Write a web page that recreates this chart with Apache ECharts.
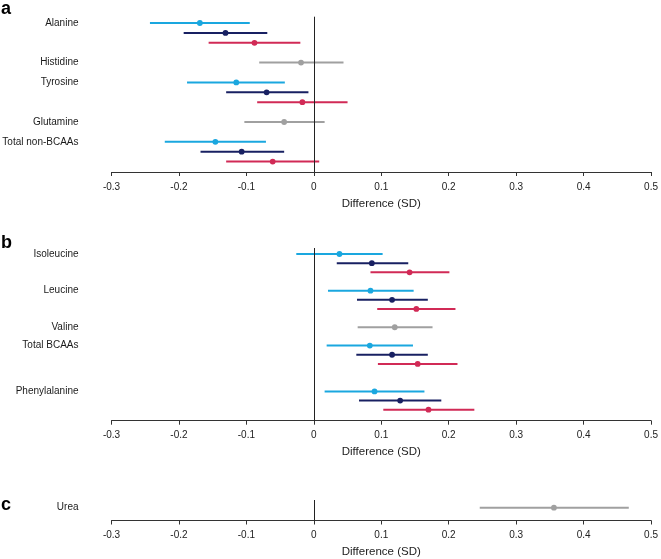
<!DOCTYPE html>
<html>
<head>
<meta charset="utf-8">
<script src="https://cdn.jsdelivr.net/npm/echarts@6/dist/echarts.min.js"></script>
<style>
html,body{margin:0;padding:0;background:#fff;}
#chart{width:661px;height:559px;}
</style>
</head>
<body>
<div id="chart"></div>
<script>
// ---- data: each metabolite -> list of [lower CI, estimate, upper CI]
// three-row groups: [light blue, navy, red]; single-row groups: grey
const alanine      = [[-0.243, -0.169, -0.095], [-0.193, -0.131, -0.069], [-0.156, -0.088, -0.020]];
const histidine    = [[-0.081, -0.019, 0.044]];
const tyrosine     = [[-0.188, -0.115, -0.043], [-0.130, -0.070, -0.008], [-0.084, -0.017, 0.050]];
const glutamine    = [[-0.103, -0.044, 0.016]];
const totalNonBCAA = [[-0.221, -0.146, -0.071], [-0.168, -0.107, -0.044], [-0.130, -0.061, 0.008]];

const isoleucine   = [[-0.026, 0.038, 0.102], [0.034, 0.086, 0.140], [0.084, 0.142, 0.201]];
const leucine      = [[0.021, 0.084, 0.148], [0.064, 0.116, 0.169], [0.094, 0.152, 0.210]];
const valine       = [[0.065, 0.120, 0.176]];
const totalBCAA    = [[0.019, 0.083, 0.147], [0.063, 0.116, 0.169], [0.095, 0.154, 0.213]];
const phenylalanine= [[0.016, 0.090, 0.164], [0.067, 0.128, 0.189], [0.103, 0.170, 0.238]];

const urea         = [[0.246, 0.356, 0.467]];

const panelALabels = ['Alanine', 'Histidine', 'Tyrosine', 'Glutamine', 'Total non-BCAAs'];
const panelAData   = [alanine, histidine, tyrosine, glutamine, totalNonBCAA];
const panelBLabels = ['Isoleucine', 'Leucine', 'Valine', 'Total BCAAs', 'Phenylalanine'];
const panelBData   = [isoleucine, leucine, valine, totalBCAA, phenylalanine];
const panelCLabels = ['Urea'];
const panelCData   = [urea];

const xTicks = [-0.3, -0.2, -0.1, 0, 0.1, 0.2, 0.3, 0.4, 0.5];
const axisTitle = 'Difference (SD)';

// ---- layout / style (not data)
const gapsA = [0, 1, 1, 1, 1];
const gapsB = [0, 1, 1, 1, 2];
const gapsC = [0];
const tripleColors = ['#1aa7df', '#182062', '#d12a56'];
const singleColor = '#a0a0a0';
const FONT = 'Liberation Sans, Arial, Helvetica, sans-serif';

function buildRows(labels, data, gaps) {
  const rows = [];
  let slot = 0;
  data.forEach((grp, g) => {
    slot += gaps[g];
    grp.forEach((ci, k) => {
      const color = grp.length === 1 ? singleColor : tripleColors[k];
      rows.push({ value: [ci[0], ci[1], ci[2], slot], color: color, label: k === 0 ? labels[g] : '' });
      slot += 1;
    });
  });
  return rows;
}

const rowsA = buildRows(panelALabels, panelAData, gapsA);
const rowsB = buildRows(panelBLabels, panelBData, gapsB);
const rowsC = buildRows(panelCLabels, panelCData, gapsC);

function makeSeries(rows, idx) {
  return {
    type: 'custom',
    xAxisIndex: idx,
    yAxisIndex: idx,
    encode: { x: [0, 1, 2], y: 3 },
    data: rows.map(r => r.value),
    renderItem: function (params, api) {
      const r = rows[params.dataIndex];
      const y = api.value(3);
      const p1 = api.coord([api.value(0), y]);
      const p2 = api.coord([api.value(2), y]);
      const pc = api.coord([api.value(1), y]);
      const children = [
        { type: 'line', shape: { x1: p1[0], y1: p1[1], x2: p2[0], y2: p2[1] },
          style: { stroke: r.color, lineWidth: 2 } },
        { type: 'circle', shape: { cx: pc[0], cy: pc[1], r: 2.9 },
          style: { fill: r.color } }
      ];
      if (r.label) {
        const pl = api.coord([xTicks[0], y]);
        children.push({ type: 'text', x: pl[0] - 33, y: pl[1],
          style: { text: r.label, align: 'right', verticalAlign: 'middle',
                   fill: '#1a1a1a', font: '10px ' + FONT } });
      }
      return { type: 'group', children: children };
    },
    markLine: {
      silent: true, symbol: 'none', animation: false,
      label: { show: false },
      lineStyle: { color: '#222', width: 1, type: 'solid' },
      data: [{ xAxis: 0 }]
    },
    animation: false
  };
}

function makeX(idx) {
  return {
    type: 'value', gridIndex: idx,
    min: xTicks[0], max: xTicks[xTicks.length - 1], interval: 0.1,
    splitLine: { show: false },
    axisLine: { show: true, onZero: false, lineStyle: { color: '#333', width: 1 } },
    axisTick: { show: true, inside: false, length: 4, lineStyle: { color: '#333' } },
    axisLabel: { color: '#222', fontSize: 10, fontFamily: FONT, margin: 10,
                 formatter: v => String(Math.round(v * 10) / 10) },
    name: axisTitle, nameLocation: 'middle', nameGap: 25.5,
    nameTextStyle: { color: '#222', fontSize: 11.5, fontFamily: FONT }
  };
}

function makeY(idx, min, max) {
  return { type: 'value', gridIndex: idx, min: min, max: max, inverse: true, show: false,
           splitLine: { show: false } };
}

const chart = echarts.init(document.getElementById('chart'), null, { renderer: 'canvas' });
chart.setOption({
  backgroundColor: '#fff',
  animation: false,
  grid: [
    { left: 111.5, width: 541.8, top: 16.7, height: 155.3 },
    { left: 111.5, width: 541.8, top: 248, height: 172.7 },
    { left: 111.5, width: 541.8, top: 500, height: 24.5 }
  ],
  xAxis: [makeX(0), makeX(1), makeX(2)],
  yAxis: [makeY(0, -0.636, 15.05), makeY(1, -0.655, 18.2), makeY(2, -0.95, 1.6)],
  series: [makeSeries(rowsA, 0), makeSeries(rowsB, 1), makeSeries(rowsC, 2)],
  graphic: [
    { type: 'text', left: 1, top: 0, style: { text: 'a', font: 'bold 18px ' + FONT, fill: '#000' } },
    { type: 'text', left: 1, top: 234, style: { text: 'b', font: 'bold 18px ' + FONT, fill: '#000' } },
    { type: 'text', left: 1, top: 496, style: { text: 'c', font: 'bold 18px ' + FONT, fill: '#000' } }
  ]
});
</script>
</body>
</html>
